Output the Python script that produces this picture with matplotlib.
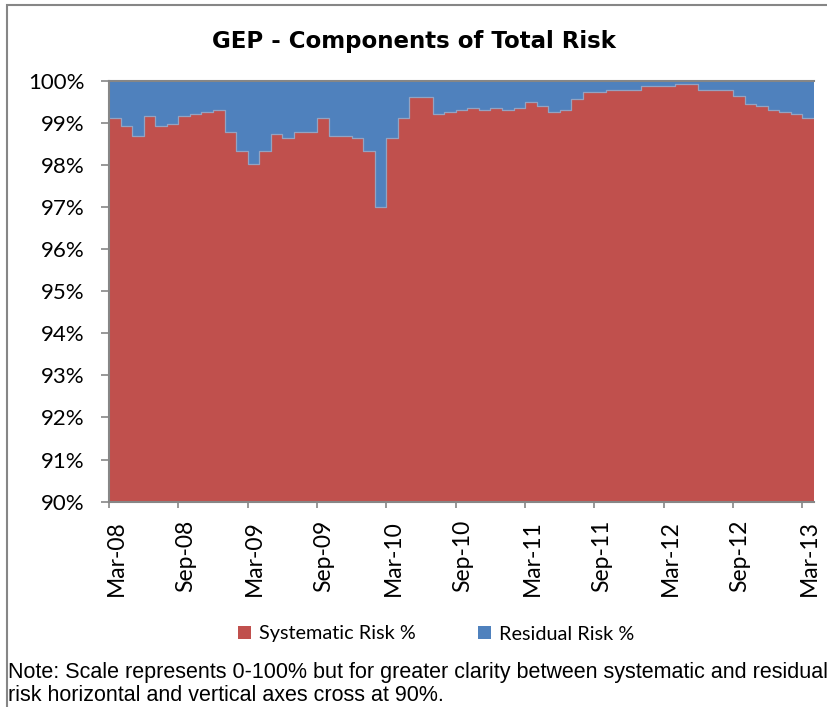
import matplotlib.pyplot as plt
import numpy as np
from matplotlib.patches import Rectangle

# monthly values Mar-08 .. Mar-13, systematic share of total risk (%)
months = ["Mar-08", "Sep-08", "Mar-09", "Sep-09", "Mar-10", "Sep-10",
          "Mar-11", "Sep-11", "Mar-12", "Sep-12", "Mar-13"]
systematic = [99.11, 98.92, 98.69, 99.15, 98.92, 98.97, 99.15, 99.21, 99.25, 99.30,
              98.78, 98.32, 98.03, 98.32, 98.74, 98.65, 98.78, 98.78, 99.11, 98.69,
              98.69, 98.65, 98.32, 97.01, 98.65, 99.11, 99.62, 99.62, 99.21, 99.25,
              99.30, 99.34, 99.30, 99.34, 99.30, 99.34, 99.49, 99.39, 99.25, 99.30,
              99.57, 99.72, 99.72, 99.77, 99.77, 99.77, 99.87, 99.87, 99.87, 99.91,
              99.91, 99.77, 99.77, 99.77, 99.63, 99.45, 99.39, 99.30, 99.25, 99.21,
              99.11]
residual = [100 - v for v in systematic]

RED = "#C0504D"
BLUE = "#4F81BD"
GRAY = "#868686"

sysv = np.array(systematic)
resv = np.array(residual)
x = np.arange(len(sysv) + 1)
sys_step = np.append(sysv, sysv[-1])
top_step = np.append(sysv + resv, sysv[-1] + resv[-1])

fig = plt.figure(figsize=(8.27, 7.07), dpi=100)
ax = fig.add_axes([109 / 827, 1 - 501.7 / 707, (814 - 109) / 827, (501.7 - 80.7) / 707])

ax.fill_between(x, 90, sys_step, step="post", color=RED, lw=0, label="Systematic Risk %")
ax.fill_between(x, sys_step, top_step, step="post", color=BLUE, lw=0, label="Residual Risk %")
ax.step(x, sys_step, where="post", color="#93a3c2", lw=0.9)

ax.set_xlim(0, len(sysv))
ax.set_ylim(90, 100)

yt = np.arange(90, 101, 1)
ax.set_yticks(yt, [f"{v}%" for v in yt], fontsize=16, family="Lato")
ax.tick_params(axis="y", length=5.5, width=1.2, color=GRAY, pad=12)

tick_pos = np.arange(0, len(sysv), 6)
ax.set_xticks(tick_pos, [""] * len(tick_pos))
ax.tick_params(axis="x", which="major", length=4, width=1.2, color=GRAY)
ax.set_xticks(tick_pos + 0.6, months, minor=True, rotation=90, fontsize=16.5, family="Lato")
ax.tick_params(axis="x", which="minor", length=0, pad=13)

for s in ["left", "bottom", "top"]:
    ax.spines[s].set_color(GRAY)
    ax.spines[s].set_linewidth(1.5)
ax.spines["right"].set_visible(False)

fig.text(0.5, 1 - 47.7 / 707, "GEP - Components of Total Risk", ha="center", va="baseline",
         fontsize=16.5, fontweight="bold", family="DejaVu Sans")

handles, labels = ax.get_legend_handles_labels()
fig.legend(handles, labels, loc="center", bbox_to_anchor=(436 / 827, 1 - 634 / 707), ncol=2,
           frameon=False, prop={"family": "Lato", "size": 14.3}, handlelength=0.65,
           handleheight=0.65, handletextpad=0.4, columnspacing=3.15)

fig.text(8 / 827, 1 - 678 / 707, "Note: Scale represents 0-100% but for greater clarity between systematic and residual",
         ha="left", va="baseline", fontsize=15.5, family="Liberation Sans")
fig.text(8 / 827, 1 - 706 / 707, "risk horizontal and vertical axes cross at 90%.",
         ha="left", va="bottom", fontsize=15.5, family="Liberation Sans")

fig.patches.append(Rectangle((7 / 827, -0.1), 1.2, 1.1 - 5 / 707, transform=fig.transFigure,
                             fill=False, edgecolor=GRAY, lw=1.5))

fig.savefig("out.png", dpi=100)
